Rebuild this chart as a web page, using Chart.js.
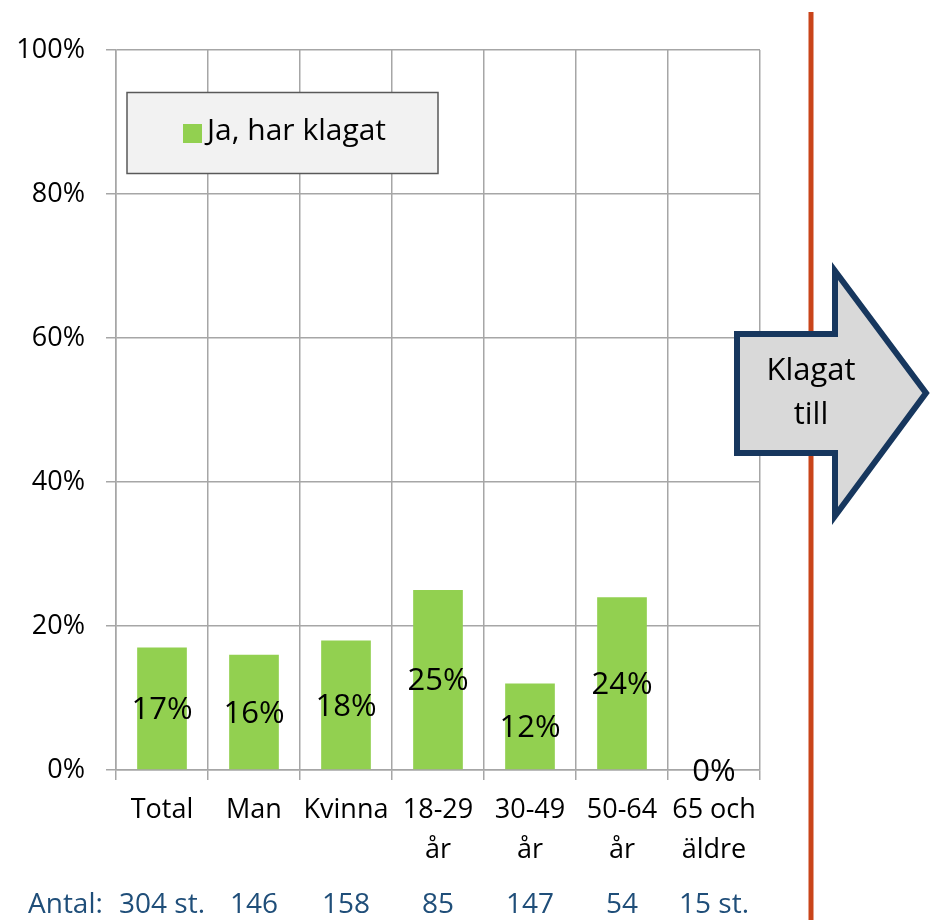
<!DOCTYPE html>
<html>
<head>
<meta charset="utf-8">
<script src="https://cdn.jsdelivr.net/npm/chart.js@4.4.0/dist/chart.umd.min.js"></script>
<style>
  html, body { margin: 0; padding: 0; background: #fff; }
  #wrap { width: 930px; height: 920px; position: relative; }
</style>
</head>
<body>
<div id="wrap"><canvas id="chart" width="930" height="920"></canvas></div>
<script>
const categories = ['Total', 'Man', 'Kvinna', ['18-29', 'år'], ['30-49', 'år'], ['50-64', 'år'], ['65 och', 'äldre']];
const klagat = [17, 16, 18, 25, 12, 24, 0];
const antal = ['304 st.', '146', '158', '85', '147', '54', '15 st.'];
const seriesLabel = 'Ja, har klagat';
const FONT = "'Open Sans', 'Noto Sans', sans-serif";

// value labels centred in each bar
const barLabels = {
    id: 'barLabels',
    afterDatasetsDraw(chart) {
        const ctx = chart.ctx;
        const meta = chart.getDatasetMeta(0);
        ctx.save();
        ctx.font = `31px ${FONT}`;
        ctx.fillStyle = '#000';
        ctx.textAlign = 'center';
        ctx.textBaseline = 'middle';
        meta.data.forEach((bar, i) => {
            const { x, y, base } = bar.getProps(['x', 'y', 'base'], true);
            ctx.fillText(klagat[i] + '%', x, (y + base) / 2 + 2);
        });
        ctx.restore();
    }
};

// legend box, Antal row, red divider and arrow
const extras = {
    id: 'extras',
    afterDraw(chart) {
        const ctx = chart.ctx;
        const xs = chart.scales.x;
        ctx.save();

        // legend box
        ctx.fillStyle = '#F2F2F2';
        ctx.strokeStyle = '#595959';
        ctx.lineWidth = 1.5;
        ctx.fillRect(127, 92.5, 311, 81);
        ctx.strokeRect(127, 92.5, 311, 81);
        ctx.fillStyle = chart.data.datasets[0].backgroundColor;
        ctx.fillRect(183, 124, 19, 19);
        ctx.fillStyle = '#000';
        ctx.font = `30px ${FONT}`;
        ctx.textBaseline = 'middle';
        ctx.textAlign = 'left';
        ctx.fillText(seriesLabel, 207, 131);

        // Antal row
        ctx.fillStyle = '#1F4E79';
        ctx.font = `28px ${FONT}`;
        ctx.fillText('Antal:', 28, 905);
        ctx.textAlign = 'center';
        antal.forEach((a, i) => ctx.fillText(a, xs.getPixelForValue(i), 905));

        // red divider
        ctx.strokeStyle = '#C9441A';
        ctx.lineWidth = 5;
        ctx.beginPath();
        ctx.moveTo(811, 12);
        ctx.lineTo(811, 920);
        ctx.stroke();

        // arrow
        ctx.beginPath();
        ctx.moveTo(737, 334);
        ctx.lineTo(835, 334);
        ctx.lineTo(835, 271);
        ctx.lineTo(926, 393);
        ctx.lineTo(835, 516);
        ctx.lineTo(835, 453);
        ctx.lineTo(737, 453);
        ctx.closePath();
        ctx.fillStyle = '#D9D9D9';
        ctx.fill();
        ctx.strokeStyle = '#17375E';
        ctx.lineWidth = 6;
        ctx.lineJoin = 'miter';
        ctx.stroke();
        ctx.fillStyle = '#000';
        ctx.font = `31px ${FONT}`;
        ctx.textBaseline = 'middle';
        ctx.fillText('Klagat', 811, 371);
        ctx.fillText('till', 811, 415);

        ctx.restore();
    }
};

new Chart(document.getElementById('chart'), {
    type: 'bar',
    data: {
        labels: categories,
        datasets: [{
            label: seriesLabel,
            data: klagat,
            backgroundColor: '#92D050',
            borderWidth: 0,
            categoryPercentage: 1,
            barPercentage: 0.54
        }]
    },
    options: {
        responsive: false,
        animation: false,
        layout: { padding: { top: 50, right: 170, left: 0, bottom: 0 } },
        scales: {
            x: {
                offset: true,
                grid: { offset: true, color: '#A6A6A6', lineWidth: 1.5, tickLength: 10 },
                border: { color: '#A6A6A6', width: 1.5 },
                ticks: {
                    color: '#000',
                    font: { family: FONT, size: 27, lineHeight: 1.48 },
                    padding: 10,
                    maxRotation: 0,
                    autoSkip: false
                },
                afterFit: (s) => { s.height = 150; }
            },
            y: {
                min: 0,
                max: 100,
                grid: { color: '#A6A6A6', lineWidth: 1.5, tickLength: 10 },
                border: { color: '#A6A6A6', width: 1.5 },
                ticks: {
                    stepSize: 20,
                    color: '#000',
                    font: { family: FONT, size: 27 },
                    padding: 21,
                    callback: v => v + '%'
                },
                afterFit: (s) => { s.width = 116; }
            }
        },
        plugins: {
            legend: { display: false },
            tooltip: { enabled: false }
        }
    },
    plugins: [barLabels, extras]
});
</script>
</body>
</html>
